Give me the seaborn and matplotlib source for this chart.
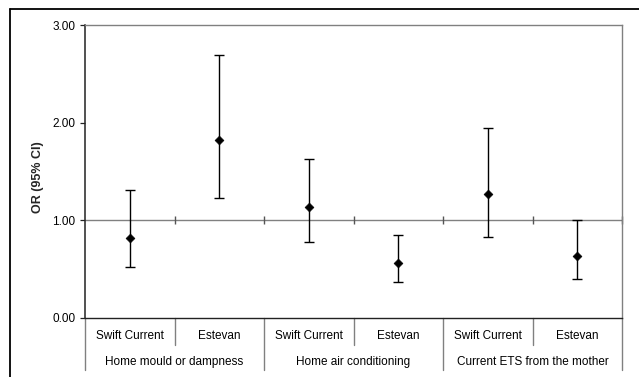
import matplotlib
matplotlib.use("Agg")
import matplotlib.pyplot as plt
import seaborn as sns
import pandas as pd
from matplotlib.lines import Line2D

# ---- data ----
groups = ["Home mould or dampness", "Home air conditioning", "Current ETS from the mother"]
sites = ["Swift Current", "Estevan", "Swift Current", "Estevan", "Swift Current", "Estevan"]
odds_ratio = [0.82, 1.82, 1.14, 0.56, 1.27, 0.63]
ci_lower = [0.52, 1.23, 0.78, 0.37, 0.83, 0.40]
ci_upper = [1.31, 2.69, 1.63, 0.85, 1.95, 1.00]
y_ticks = [0.0, 1.0, 2.0, 3.0]
y_label = "OR (95% CI)"

sns.set_style("white")
plt.rcParams["font.family"] = ["Liberation Sans", "DejaVu Sans"]

df = pd.DataFrame({
    "pos": list(range(len(sites))),
    "site": sites,
    "or": odds_ratio,
    "lo": ci_lower,
    "hi": ci_upper,
})

W, H = 639, 377
fig = plt.figure(figsize=(W / 100, H / 100), dpi=100)


def fx(px):
    return px / W


def fy(py):
    return 1 - py / H


ax = fig.add_axes([fx(85), fy(318), fx(622) - fx(85), fy(25) - fy(318)])

GRAY = "#808080"
DARK = "#222222"

# reference line at OR = 1
ax.axhline(1.0, color=GRAY, lw=1.0, zorder=1)
bounds = [i + 0.5 for i in range(len(sites))]
ax.plot(bounds, [1.0] * len(bounds), linestyle="none", marker="|", ms=6,
        mew=1.0, color="#555555", clip_on=False, zorder=1)

# error bars
ax.errorbar(df["pos"], df["or"],
            yerr=[df["or"] - df["lo"], df["hi"] - df["or"]],
            fmt="none", ecolor="black", elinewidth=1.0, capsize=3.5,
            capthick=1.0, zorder=2)
# points
sns.scatterplot(data=df, x="pos", y="or", marker="D", color="black",
                s=20, edgecolor="black", linewidth=0.5, ax=ax, zorder=3,
                legend=False)

ax.set_xlim(-0.5, len(sites) - 0.5)
ax.set_ylim(0, 3)
ax.set_yticks(y_ticks)
ax.set_yticklabels([f"{v:.2f}" for v in y_ticks])
ax.set_xticks([])
ax.set_xlabel("")
ax.set_ylabel("")
ax.tick_params(axis="y", which="major", left=True, length=3.6, width=0.9,
               color=DARK, pad=3.5, labelsize=8.5, labelcolor="black")

for side in ["top", "right"]:
    ax.spines[side].set_color(GRAY)
    ax.spines[side].set_linewidth(1.0)
ax.spines["left"].set_color(DARK)
ax.spines["left"].set_linewidth(1.1)
ax.spines["bottom"].set_color(DARK)
ax.spines["bottom"].set_linewidth(1.0)

# category table below the axis
tr = ax.get_xaxis_transform()
inner_y = -(345 - 318) / 293
outer_y = -(370 - 318) / 293
site_text_y = -(336 - 318) / 293
group_text_y = -(362 - 318) / 293

for i, b in enumerate([-0.5] + bounds):
    is_group = (i % 2 == 0)
    yb = outer_y if is_group else inner_y
    ax.plot([b, b], [0, yb], transform=tr, color=GRAY, lw=1.0, clip_on=False)

for p, s in zip(df["pos"], df["site"]):
    ax.text(p, site_text_y, s, transform=tr, ha="center", va="center",
            fontsize=8.5, color="black")
for gi, g in enumerate(groups):
    ax.text(2 * gi + 0.5, group_text_y, g, transform=tr, ha="center",
            va="center", fontsize=8.5, color="black")

fig.text(fx(38), fy(177), y_label, rotation=90, ha="center", va="center",
         fontsize=9, fontweight="bold")

# outer frame
fig.add_artist(Line2D([fx(10), 1.0], [fy(9), fy(9)], color="black", lw=1.3))
fig.add_artist(Line2D([fx(10), fx(10)], [fy(9), 0.0], color="black", lw=1.3))

fig.savefig("out.png", dpi=100)
